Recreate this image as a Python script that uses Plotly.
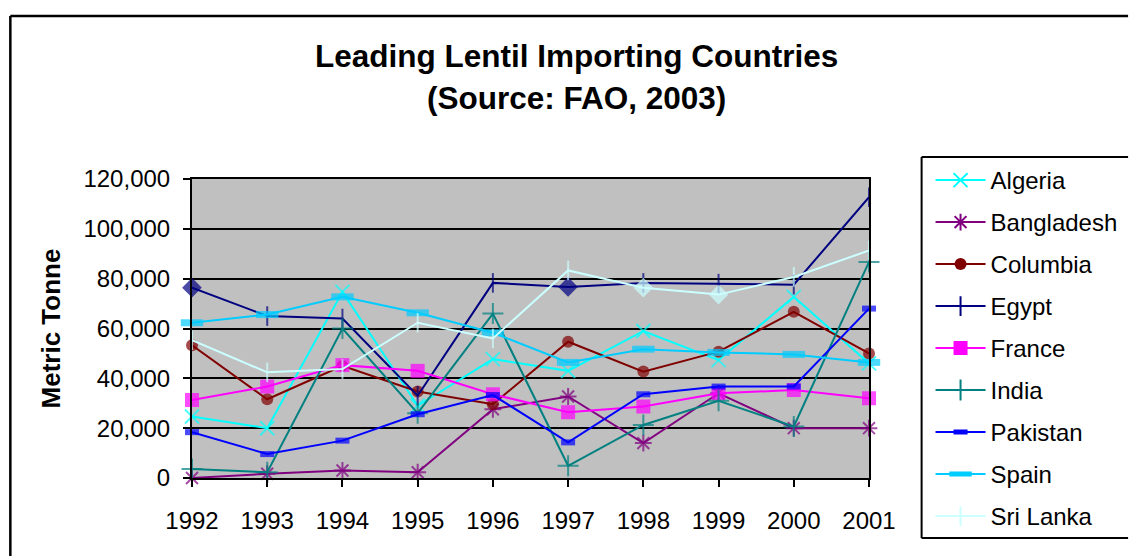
import plotly.graph_objects as go

years = [1992, 1993, 1994, 1995, 1996, 1997, 1998, 1999, 2000, 2001]
countries = ["Algeria", "Bangladesh", "Columbia", "Egypt", "France", "India", "Pakistan", "Spain", "Sri Lanka"]

algeria = [24700, 20000, 74700, 29000, 47700, 43000, 59000, 47300, 72700, 46000]
bangladesh = [0, 1700, 3000, 2300, 27600, 32700, 14000, 34000, 20000, 20000]
columbia = [53300, 31600, 45000, 34700, 29600, 54700, 42700, 50700, 66700, 50000]
egypt = [76400, 65000, 64000, 33000, 78300, 76700, 78300, 78000, 77600, 112700]
france = [31300, 36700, 45300, 43000, 33600, 26400, 28700, 34000, 35300, 32000]
india = [3600, 2300, 60000, 26000, 66000, 4900, 21300, 31000, 20700, 86700]
pakistan = [18400, 9600, 15000, 25600, 33300, 14300, 33600, 36700, 36700, 68000]
spain = [62300, 65600, 72700, 66300, 58300, 46400, 51700, 50400, 49600, 46400]
sri_lanka = [55300, 42400, 43700, 62300, 56000, 83300, 76400, 73600, 80700, 91300]

series = [algeria, bangladesh, columbia, egypt, france, india, pakistan, spain, sri_lanka]
colors = ["#00FFFF", "#800080", "#800000", "#000080", "#FF00FF", "#008080", "#0000FF", "#00CCFF", "#CCFFFF"]
# (symbol, size, marker line width)
markers = [
    ("x-thin-open", 14, 2),
    ("asterisk-open", 14, 2),
    ("circle", 12, 0),
    ("line-ns-open", 14, 2),
    ("square", 14, 0),
    ("cross-thin-open", 15, 2),
    ("line-ew-open", 10, 6),
    ("line-ew-open", 16, 7),
    ("line-ns-open", 14, 2),
]
# per-point symbol overrides seen in the chart
overrides = {3: {0: "diamond", 5: "diamond"}, 8: {6: "diamond", 7: "diamond"}}

FONT = "Liberation Sans, Arial, sans-serif"
fig = go.Figure()

for i, (name, vals, col, (sym, size, lw)) in enumerate(zip(countries, series, colors, markers)):
    syms = [sym] * len(years)
    sizes = [size] * len(years)
    for k, s in overrides.get(i, {}).items():
        syms[k] = s
        sizes[k] = 13
    fig.add_trace(go.Scatter(
        x=years, y=vals, mode="lines+markers", name=name, showlegend=False,
        line=dict(color=col, width=2),
        marker=dict(symbol=syms, size=sizes, color=col, line=dict(color=col, width=lw)),
        cliponaxis=False,
    ))
    # legend entry
    fig.add_trace(go.Scatter(
        x=[None], y=[None], mode="lines+markers", name=name, legendgroup=name,
        line=dict(color=col, width=2),
        marker=dict(symbol=sym, size=size, color=col, line=dict(color=col, width=lw)),
    ))

W, H = 1135, 556
L, T = 192, 179
R = W - 874
B = H - 478
pw, ph = W - L - R, H - T - B

def px_x(x):
    return (x - L) / pw

def px_y(y):
    return (H - B - y) / ph

def pline(x0, y0, x1, y1, w=2):
    return dict(type="line", xref="paper", yref="paper",
                x0=px_x(x0), y0=px_y(y0), x1=px_x(x1), y1=px_y(y1),
                line=dict(color="black", width=w), layer="above")

LEG_L, LEG_T, LEG_B = 927, 157, 538

fig.update_layout(
    width=W, height=H,
    margin=dict(l=L, r=R, t=T, b=B, pad=0),
    paper_bgcolor="white",
    plot_bgcolor="#C0C0C0",
    font=dict(family=FONT, size=24, color="black"),
    showlegend=True,
    legend=dict(
        x=px_x(936), y=px_y(LEG_T + 1), xanchor="left", yanchor="top",
        bgcolor="rgba(0,0,0,0)", borderwidth=0,
        font=dict(family=FONT, size=24, color="black"),
        traceorder="grouped", tracegroupgap=7.8,
        itemwidth=50, maxheight=600,
    ),
    xaxis=dict(
        range=[1992, 2001], tickmode="array", tickvals=years, ticktext=[str(y) for y in years],
        showgrid=False, zeroline=False,
        showline=True, linecolor="black", linewidth=2, mirror=True,
        ticks="outside", ticklen=7, tickwidth=2, tickcolor="black",
        ticklabelstandoff=13,
        tickfont=dict(family=FONT, size=24, color="black"),
    ),
    yaxis=dict(
        range=[0, 120000], dtick=20000, tickformat=",",
        showgrid=True, gridcolor="black", gridwidth=2, zeroline=False,
        showline=True, linecolor="black", linewidth=2, mirror=True,
        ticks="outside", ticklen=7, tickwidth=2, tickcolor="black",
        ticklabelstandoff=8,
        tickfont=dict(family=FONT, size=24, color="black"),
        title=dict(text="<b>Metric Tonne</b>", font=dict(family=FONT, size=26, color="black"), standoff=15),
    ),
    annotations=[
        dict(text="<b>Leading Lentil Importing Countries</b>", xref="paper", yref="paper",
             x=px_x(579), y=px_y(56), xanchor="center", yanchor="middle", showarrow=False,
             font=dict(family=FONT, size=31.5, color="black")),
        dict(text="<b>(Source: FAO, 2003)</b>", xref="paper", yref="paper",
             x=px_x(579), y=px_y(98), xanchor="center", yanchor="middle", showarrow=False,
             font=dict(family=FONT, size=31.5, color="black")),
    ],
    shapes=[
        # outer chart border (right and bottom edges lie outside the picture)
        pline(9, 16, 1135, 16, 2.5),
        pline(9, 16, 9, 556, 2.5),
        # legend box (its right edge lies outside the picture)
        dict(type="rect", xref="paper", yref="paper",
             x0=px_x(LEG_L), y0=px_y(LEG_T), x1=px_x(1135), y1=px_y(LEG_B),
             fillcolor="white", line=dict(width=0), layer="above"),
        pline(LEG_L, LEG_T, 1135, LEG_T),
        pline(LEG_L, LEG_B, 1135, LEG_B),
        pline(LEG_L, LEG_T, LEG_L, LEG_B),
    ],
)

fig.write_html(
    "out.html",
    config={"displayModeBar": False},
    post_script="document.body.style.margin='0';document.body.style.overflow='hidden';",
)
